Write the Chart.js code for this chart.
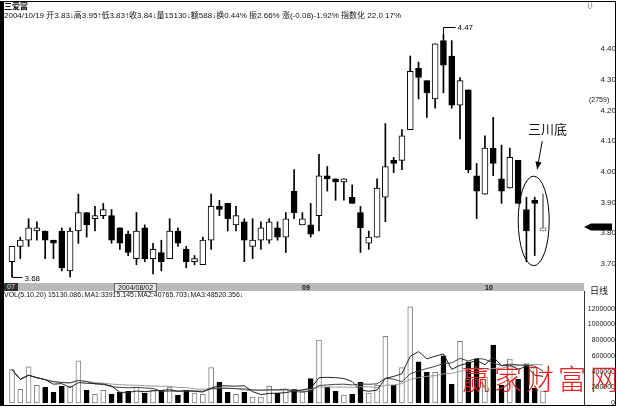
<!DOCTYPE html>
<html><head><meta charset="utf-8">
<script src="https://cdn.jsdelivr.net/npm/chart.js@4.4.1/dist/chart.umd.min.js"></script>
<style>
html,body{margin:0;padding:0;background:#fff;}
#wrap{position:relative;width:617px;height:408px;overflow:hidden;background:#fff;font-family:"Liberation Sans","Noto Sans CJK SC",sans-serif;color:#111;}
.t{position:absolute;white-space:nowrap;line-height:1;}
canvas{position:absolute;left:0;}
</style></head><body>
<div id="wrap">
  <canvas id="pc" width="617" height="283" style="top:0"></canvas>
  <canvas id="vc" width="617" height="112" style="top:296px"></canvas>
  <div style="position:absolute;left:0;top:1px;width:611px;height:403px;border:1px solid #000;border-left:4px solid #000;"></div>
  <div style="position:absolute;left:4px;top:283px;width:580px;height:8px;background:#b9b9b9;"></div>
  <div style="position:absolute;left:584px;top:291px;width:1px;height:114px;background:#333;"></div>
  <div class="t" style="left:4px;top:283px;height:8px;font-size:7px;background:#333;color:#ddd;padding:0 3px;">07</div>
  <div class="t" style="left:114px;top:283px;height:7px;font-size:7px;background:#e6e6e6;border:1px solid #666;padding:0 3px;">2004/08/02</div>
  <div class="t" style="left:302px;top:284px;font-size:7px;font-weight:bold;">09</div>
  <div class="t" style="left:485px;top:284px;font-size:7px;font-weight:bold;">10</div>
  <div class="t" style="left:590px;top:286px;font-size:9px;font-family:'Noto Sans CJK SC';">日线</div>
  <div class="t" style="left:4px;top:2px;font-size:8px;font-weight:bold;font-family:'Noto Sans CJK SC';">三爱富</div>
  <div class="t" style="left:4px;top:12px;font-size:8px;font-family:'Liberation Sans','Noto Sans CJK SC';">2004/10/19 开3.83↓高3.95↑低3.83↑收3.84↓量15130↓额588↓换0.44% 振2.66% 涨(-0.08)-1.92% 指数化 22.0 17%</div>
  <div class="t" style="left:4px;top:291px;font-size:7px;font-family:'Liberation Sans','Noto Sans CJK SC';">VOL(5,10,20) 15130.086↓MA1:33915.145↓MA2:40765.703↓MA3:48520.356↓</div>
  <div class="t" style="left:589px;top:96px;font-size:7px;">(2759)</div>
  <div class="t" style="left:586px;top:2px;font-size:8px;">⇩</div>
  <div class="t" style="left:528px;top:122px;font-size:13px;font-family:'Noto Sans CJK SC';">三川底</div>
  <div class="t" style="left:462px;top:364px;font-size:28px;letter-spacing:4px;color:#e3201c;font-family:'Noto Sans CJK SC';font-weight:300;">赢家财富网</div>
</div>
<script>
const dates = ['2004/07/14','2004/07/15','2004/07/16','2004/07/19','2004/07/20','2004/07/21','2004/07/22','2004/07/23','2004/07/26','2004/07/27','2004/07/28','2004/07/29','2004/07/30',
'2004/08/02','2004/08/03','2004/08/04','2004/08/05','2004/08/06','2004/08/09','2004/08/10','2004/08/11','2004/08/12','2004/08/13','2004/08/16','2004/08/17','2004/08/18','2004/08/19','2004/08/20','2004/08/23','2004/08/24','2004/08/25','2004/08/26','2004/08/27','2004/08/30','2004/08/31',
'2004/09/01','2004/09/02','2004/09/03','2004/09/06','2004/09/07','2004/09/08','2004/09/09','2004/09/10','2004/09/13','2004/09/14','2004/09/15','2004/09/16','2004/09/17','2004/09/20','2004/09/21','2004/09/22','2004/09/23','2004/09/24','2004/09/27','2004/09/28','2004/09/29','2004/09/30',
'2004/10/08','2004/10/11','2004/10/12','2004/10/13','2004/10/14','2004/10/15','2004/10/18','2004/10/19'];
const opens = [3.73,3.78,3.80,3.83,3.83,3.80,3.83,3.70,3.83,3.89, 3.87,3.88,3.88,3.84,3.82,3.74,3.84,3.74,3.76,3.74,
 3.83,3.77,3.73,3.72,3.80,3.91,3.92,3.85,3.86,3.78, 3.80,3.80,3.84,3.81,3.96,3.85,3.85,3.88,4.01,4.00,
 3.99,3.94,3.89,3.79,3.81,3.94,4.06,4.06,4.16,4.36, 4.32,4.26,4.45,4.40,4.24,4.29,4.01,3.95,4.10,4.00,
 3.97,4.06,3.90,3.93,3.83];
const highs = [3.78,3.81,3.87,3.86,3.83,3.80,3.84,3.84,3.95,3.89, 3.91,3.92,3.90,3.84,3.83,3.89,3.85,3.79,3.80,3.87,
 3.84,3.78,3.75,3.81,3.95,3.93,3.92,3.91,3.87,3.87, 3.86,3.87,3.86,3.89,4.03,3.89,3.92,4.08,4.04,4.00,
 4.00,3.98,3.91,3.83,4.00,4.18,4.07,4.16,4.40,4.38, 4.32,4.44,4.47,4.45,4.33,4.29,4.05,4.14,4.20,4.11,
 4.10,4.06,3.94,3.94,3.95];
const lows = [3.68,3.74,3.78,3.80,3.74,3.74,3.70,3.68,3.79,3.81, 3.83,3.87,3.79,3.77,3.75,3.72,3.73,3.69,3.70,3.74,
 3.78,3.71,3.72,3.72,3.77,3.88,3.83,3.83,3.73,3.74, 3.77,3.79,3.80,3.76,3.87,3.85,3.81,3.83,3.96,3.93,
 3.93,3.92,3.76,3.77,3.81,3.86,4.02,4.03,4.16,4.26, 4.20,4.23,4.28,4.23,4.13,4.02,3.87,3.95,4.01,3.92,
 3.97,3.92,3.73,3.75,3.83];
const closes = [3.78,3.80,3.84,3.84,3.80,3.79,3.71,3.83,3.89,3.85, 3.88,3.90,3.80,3.79,3.76,3.83,3.74,3.77,3.73,3.83,
 3.79,3.73,3.74,3.80,3.91,3.90,3.87,3.88,3.80,3.80, 3.84,3.86,3.81,3.87,3.89,3.87,3.82,4.01,4.00,3.99,
 4.00,3.92,3.84,3.81,3.97,4.04,4.05,4.14,4.35,4.33, 4.28,4.44,4.37,4.24,4.32,4.03,3.96,4.10,4.05,3.96,
 4.07,3.92,3.83,3.92,3.84];
const volumes = [425000,175000,462000,225000,200000,137000,212000,212000,537000,162000,
 112000,162000,112000,137000,150000,200000,125000,162000,162000,200000,
 100000,162000,125000,112000,450000,262000,137000,112000,137000,75000,
 75000,212000,125000,175000,175000,150000,312000,800000,200000,150000,
 100000,112000,262000,125000,225000,850000,225000,450000,1225000,525000,
 390000,390000,600000,237000,787000,525000,560000,330000,737000,226000,
 560000,300000,500000,187000,151300];
const priceTicks = [3.70,3.80,3.90,4.00,4.10,4.20,4.30,4.40];
const volTicks = [0,200000,400000,600000,800000,1000000,1200000];
const maPeriods = [5,10,20];

const N = dates.length;
const up = i => closes[i] >= opens[i];
function movingAvg(arr, n){
  return arr.map((_, i) => { const w = arr.slice(Math.max(0, i - n + 1), i + 1); return w.reduce((a, b) => a + b, 0) / w.length; });
}
const base = {responsive:false, animation:false, events:[], plugins:{legend:{display:false}, tooltip:{enabled:false}}};

const annot = {
  id:'annot',
  afterDatasetsDraw(chart){
    const {ctx, scales:{x:xs, y:ys}} = chart;
    ctx.save();
    ctx.strokeStyle = '#000'; ctx.fillStyle = '#000'; ctx.lineWidth = 1;
    ctx.font = '8px "Liberation Sans"'; ctx.textBaseline = 'middle'; ctx.textAlign = 'left';
    let hi = 0, lo = 0;
    highs.forEach((v, i) => { if (v > highs[hi]) hi = i; });
    lows.forEach((v, i) => { if (v < lows[lo]) lo = i; });
    const hx = Math.round(xs.getPixelForValue(hi)) + 0.5, hy = Math.round(ys.getPixelForValue(highs[hi])) + 0.5;
    ctx.beginPath(); ctx.moveTo(hx, hy); ctx.lineTo(hx, hy - 8); ctx.lineTo(hx + 12, hy - 8); ctx.stroke();
    ctx.fillText(highs[hi].toFixed(2), hx + 14, hy - 8);
    const lx = Math.round(xs.getPixelForValue(lo)) + 0.5, ly = Math.round(ys.getPixelForValue(lows[lo])) + 0.5;
    ctx.beginPath(); ctx.moveTo(lx, ly - 2); ctx.lineTo(lx, ly); ctx.lineTo(lx + 10, ly); ctx.stroke();
    ctx.fillText(lows[lo].toFixed(2), lx + 12, ly + 1);
    const last3 = [N - 3, N - 2, N - 1];
    const cx = xs.getPixelForValue(N - 2) - 1;
    const top = ys.getPixelForValue(Math.max(...last3.map(i => highs[i]))) - 18;
    const bot = ys.getPixelForValue(Math.min(...last3.map(i => lows[i]))) + 4;
    ctx.beginPath(); ctx.ellipse(cx, (top + bot) / 2, 15.5, (bot - top) / 2, 0, 0, Math.PI * 2); ctx.stroke();
    const ax0 = cx + 8.5, ay0 = top - 35, ax1 = cx + 3.5, ay1 = top - 7;
    ctx.beginPath(); ctx.moveTo(ax0, ay0); ctx.lineTo(ax1, ay1); ctx.stroke();
    const ang = Math.atan2(ay1 - ay0, ax1 - ax0);
    ctx.beginPath(); ctx.moveTo(ax1, ay1);
    ctx.lineTo(ax1 - 8 * Math.cos(ang - 0.4), ay1 - 8 * Math.sin(ang - 0.4));
    ctx.lineTo(ax1 - 8 * Math.cos(ang + 0.4), ay1 - 8 * Math.sin(ang + 0.4));
    ctx.closePath(); ctx.fill();
    const py = ys.getPixelForValue(closes[N - 1]) - 1;
    ctx.beginPath(); ctx.moveTo(584, py); ctx.lineTo(591, py - 3.5); ctx.lineTo(612, py - 3.5); ctx.lineTo(612, py + 3.5); ctx.lineTo(591, py + 3.5); ctx.closePath(); ctx.fill();
    ctx.restore();
  }
};

const xMin = -0.964, step = 8.297;
new Chart(document.getElementById('pc'), {
  type:'bar',
  data:{
    labels: dates,
    datasets:[
      {label:'body', data: dates.map((d, i) => ({x:i, y:[opens[i], closes[i]]})), grouped:false,
       barThickness:6, minBarLength:1, borderWidth:1, borderSkipped:false,
       borderColor: c => c.dataIndex === N - 1 ? '#777' : '#000',
       backgroundColor: c => up(c.dataIndex) ? '#fff' : (c.dataIndex === N - 1 ? '#777' : '#000')},
      {label:'wick', data: dates.map((d, i) => ({x:i, y:[lows[i], highs[i]]})), grouped:false,
       barThickness:1, borderWidth:0, backgroundColor: c => c.dataIndex === N - 1 ? '#777' : '#000'}
    ]
  },
  options:{...base,
    layout:{padding:{left:4, right:0, top:0, bottom:0}},
    scales:{
      x:{type:'linear', display:false, min:xMin, max:xMin + 609 / step, offset:false},
      y:{position:'right', min:4.40 - 227 / 307, max:4.40 + 56 / 307,
         grid:{display:false, drawTicks:false}, border:{display:false},
         afterBuildTicks: s => { s.ticks = priceTicks.map(v => ({value:v})); },
         afterFit: s => { s.width = 4; s.paddingTop = 0; s.paddingBottom = 0; },
         ticks:{mirror:true, padding:3, labelOffset:-7, color:'#222', font:{family:'Liberation Sans', size:8},
                callback: v => Number(v).toFixed(2)}}
    }
  },
  plugins:[annot]
});

const maColors = ['#222', '#444', '#9a9a9a'];
new Chart(document.getElementById('vc'), {
  type:'bar',
  data:{
    labels: dates,
    datasets:[
      ...maPeriods.map((p, k) => ({type:'line', label:'MA' + (k + 1), data: movingAvg(volumes, p).map((v, i) => ({x:i, y:v})),
        borderColor: maColors[k], borderWidth:1, pointRadius:0, fill:false, tension:0})),
      {label:'VOL', data: volumes.map((v, i) => ({x:i, y:v})), barThickness:5, borderWidth:1, borderSkipped:false,
       borderColor: c => up(c.dataIndex) ? '#808080' : '#000',
       backgroundColor: c => up(c.dataIndex) ? '#fff' : '#000'}
    ]
  },
  options:{...base,
    layout:{padding:{left:4, right:0, top:0, bottom:0}},
    scales:{
      x:{type:'linear', display:false, min:xMin, max:xMin + 610 / step, offset:false},
      y:{position:'right', min:-5 * 12739, max:107 * 12739,
         grid:{display:false, drawTicks:false}, border:{display:false},
         afterBuildTicks: s => { s.ticks = volTicks.map(v => ({value:v})); },
         afterFit: s => { s.width = 3; s.paddingTop = 0; s.paddingBottom = 0; },
         ticks:{mirror:true, padding:1, color:'#222', font:{family:'Liberation Sans', size:7},
                callback: v => String(v)}}
    }
  }
});
</script>
</body></html>
